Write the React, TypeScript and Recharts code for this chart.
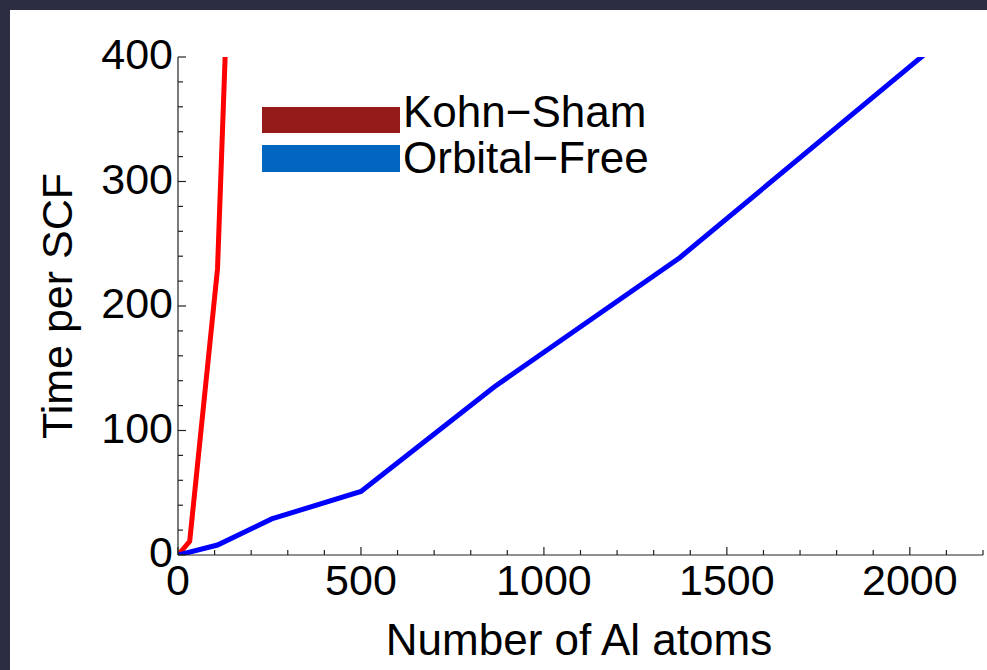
import React from "react";
import { LineChart, Line, XAxis, YAxis, Label } from "recharts";

// atoms vs time per SCF step
const ksAtoms = [0, 32, 108, 256];
const ksTime = [0, 11, 230, 1440];
const ofAtoms = [0, 108, 256, 500, 864, 1372, 2048];
const ofTime = [0, 8, 29, 51, 135, 239, 404];

const seriesNames = ["Kohn\u2212Sham", "Orbital\u2212Free"];
const lineColors = ["#ff0000", "#0000ff"];
const legendColors = ["#951a1a", "#0066c0"];

const xTicks = Array.from({ length: 23 }, (_, i) => i * 100);
const yTicks = Array.from({ length: 21 }, (_, i) => i * 20);

const ksData = ksAtoms.map((a, i) => ({ atoms: a, ks: ksTime[i] }));
const ofData = ofAtoms.map((a, i) => ({ atoms: a, of: ofTime[i] }));

const FONT = "'Liberation Sans', Arial, Helvetica, sans-serif";

function XTick(props: any) {
  const { x, y, payload } = props;
  const major = payload.value % 500 === 0;
  return (
    <g>
      <line x1={x} x2={x} y1={y} y2={y - (major ? 8 : 5)} stroke="#222" strokeWidth={1.2} />
      {major && (
        <text x={x} y={y + 40} textAnchor="middle" fontSize={43} fontFamily={FONT} fill="#000">
          {payload.value}
        </text>
      )}
    </g>
  );
}

function YTick(props: any) {
  const { x, y, payload } = props;
  const major = payload.value % 100 === 0;
  return (
    <g>
      <line x1={x} x2={x + (major ? 8 : 5)} y1={y} y2={y} stroke="#222" strokeWidth={1.2} />
      {major && (
        <text x={x - 5} y={y + 12} textAnchor="end" fontSize={43} fontFamily={FONT} fill="#000">
          {payload.value}
        </text>
      )}
    </g>
  );
}

export default function App() {
  return (
    <div style={{ position: "fixed", left: 0, top: 0, width: 987, height: 670, background: "#2c2c42" }}>
      <div style={{ position: "absolute", left: 10, top: 10, width: 977, height: 660, background: "#fff" }} />
      <div style={{ position: "absolute", left: 0, top: 0 }}>
        <LineChart width={987} height={670} margin={{ top: 57, right: 4, bottom: 0, left: 0 }}>
          <XAxis
            type="number"
            dataKey="atoms"
            domain={[0, 2200]}
            ticks={xTicks}
            interval={0}
            height={115}
            tickSize={0}
            tickMargin={0}
            tick={<XTick />}
            axisLine={{ stroke: "#222", strokeWidth: 1.2 }}
            allowDataOverflow
          >
            <Label
              content={() => (
                <text x={579} y={655} textAnchor="middle" fontSize={44} fontFamily={FONT} fill="#000">
                  Number of Al atoms
                </text>
              )}
            />
          </XAxis>
          <YAxis
            type="number"
            domain={[0, 400]}
            ticks={yTicks}
            interval={0}
            width={178}
            tickSize={0}
            tickMargin={0}
            tick={<YTick />}
            axisLine={{ stroke: "#222", strokeWidth: 1.2 }}
            allowDataOverflow
          >
            <Label
              content={() => (
                <text
                  x={72}
                  y={306}
                  textAnchor="middle"
                  fontSize={43}
                  fontFamily={FONT}
                  fill="#000"
                  transform="rotate(-90 72 306)"
                >
                  Time per SCF
                </text>
              )}
            />
          </YAxis>
          <Line
            data={ksData}
            dataKey="ks"
            type="linear"
            stroke={lineColors[0]}
            strokeWidth={5}
            dot={false}
            isAnimationActive={false}
          />
          <Line
            data={ofData}
            dataKey="of"
            type="linear"
            stroke={lineColors[1]}
            strokeWidth={5}
            dot={false}
            isAnimationActive={false}
          />
        </LineChart>
      </div>
      <svg style={{ position: "absolute", left: 0, top: 0 }} width={987} height={670}>
        <rect x={262} y={107} width={138} height={26} fill={legendColors[0]} />
        <rect x={262} y={145} width={138} height={27} fill={legendColors[1]} />
        <text x={403} y={127} fontSize={44} fontFamily={FONT} fill="#000">
          {seriesNames[0]}
        </text>
        <text x={403} y={173} fontSize={44} fontFamily={FONT} fill="#000">
          {seriesNames[1]}
        </text>
      </svg>
    </div>
  );
}
